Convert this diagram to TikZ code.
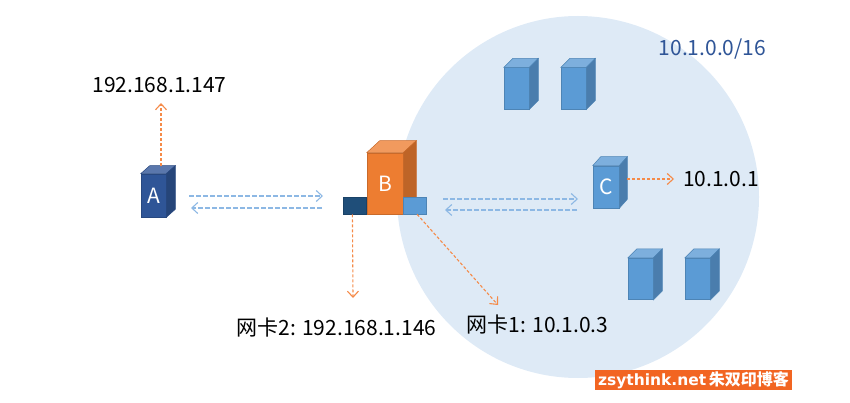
\documentclass[tikz,border=0pt]{standalone}
\usepackage{fontspec}
\setmainfont{Noto Sans CJK SC}
\newfontfamily\markfont{DejaVu Sans}
\usetikzlibrary{calc, positioning, arrows.meta}
\definecolor{netBlue}{HTML}{DEEAF6}
\definecolor{hostBlue}{HTML}{5B9BD5}
\definecolor{hostBlueTop}{HTML}{7DAFDD}
\definecolor{hostBlueSide}{HTML}{4A7DAD}
\definecolor{hostDark}{HTML}{2F5597}
\definecolor{hostDarkTop}{HTML}{5A77AC}
\definecolor{hostDarkSide}{HTML}{264579}
\definecolor{hostOrange}{HTML}{ED7D31}
\definecolor{hostOrangeTop}{HTML}{F19A5E}
\definecolor{hostOrangeSide}{HTML}{BE6427}
\definecolor{nicDark}{HTML}{1F4E79}
\definecolor{linkBlue}{HTML}{8DB8E4}
\definecolor{linkOrange}{HTML}{F58A48}
\definecolor{markOrange}{HTML}{F26522}
\tikzset{
    host/.style={rectangle, draw=#1!85!black, fill=#1, line width=0.6pt, inner sep=0pt, text=white, font=\fontsize{21}{21}\selectfont},
    nic/.style={rectangle, draw=#1!85!black, fill=#1, line width=0.6pt, inner sep=0pt, minimum width=23pt, minimum height=17pt},
    addr/.style={inner sep=0pt, font=\fontsize{21}{25}\selectfont, text=black},
    traffic/.style={-{Straight Barb[length=6pt, width=11pt]}, linkBlue, line width=1.1pt, dash pattern=on 5pt off 2pt},
    lookup/.style={-{Straight Barb[length=6pt, width=11pt]}, linkOrange, line width=1.1pt, dash pattern=on 3pt off 2pt}
}
\begin{document}
\begin{tikzpicture}[x=1pt, y=-1pt]
    \useasboundingbox (0,0) rectangle (850,403);

    % Subnet
    \node[circle, fill=netBlue, minimum size=362pt, inner sep=0pt] (net) at (578,197) {};

    % Hosts
    \node[host=hostDark, minimum width=25pt, minimum height=43pt] (A) at (153.5,195.5) {A};
    \node[host=hostOrange, minimum width=36pt, minimum height=61pt] (B) at (385,183.5) {B};
    \node[host=hostBlue, minimum width=26pt, minimum height=42pt] (C) at (606,187) {C};
    \foreach \name/\x/\y in {h1/516.5/88.5, h2/573.5/88.5, h3/640.5/279, h4/697.5/279} {
        \node[host=hostBlue, minimum width=25pt, minimum height=41.5pt] (\name) at (\x,\y) {};
    }

    % Top and side faces
    \foreach \name/\dx/\dy/\col in {A/9/8/hostDark, B/13/12/hostOrange, C/8/9/hostBlue, h1/9/9/hostBlue, h2/9/9/hostBlue, h3/9/9/hostBlue, h4/9/9/hostBlue} {
        \filldraw[fill=\col Top, draw=\col!85!black, line width=0.5pt] (\name.north west) -- ++(\dx,-\dy) -- ($(\name.north east)+(\dx,-\dy)$) -- (\name.north east) -- cycle;
        \filldraw[fill=\col Side, draw=\col!85!black, line width=0.5pt] (\name.north east) -- ++(\dx,-\dy) -- ($(\name.south east)+(\dx,-\dy)$) -- (\name.south east) -- cycle;
    }

    % Network cards
    \node[nic=nicDark, anchor=south east] (nic2) at (B.south west) {};
    \node[nic=hostBlue, anchor=south west] (nic1) at (B.south east) {};

    % Labels
    \node[addr, text=hostDark] (netAddr) at (712.5,49) {10.1.0.0/16};
    \node[addr] (addrA) at (159.5,85) {192.168.1.147};
    \node[addr] (addrC) at (721,179) {10.1.0.1};
    \node[addr] (addrNic2) at (336.5,328) {网卡2: 192.168.1.146};
    \node[addr] (addrNic1) at (537.5,325) {网卡1: 10.1.0.3};

    % Free ends of the connectors
    \coordinate (upA) at (161,166);
    \coordinate (topA) at (161,103);
    \coordinate (ab1) at (189,196);
    \coordinate (ab2) at (323,196);
    \coordinate (ba1) at (322,208);
    \coordinate (ba2) at (191,208);
    \coordinate (bc1) at (443,199);
    \coordinate (bc2) at (578,199);
    \coordinate (cb1) at (577,210);
    \coordinate (cb2) at (445,210);
    \coordinate (endC) at (674,179);
    \coordinate (endNic2) at (353,298);
    \coordinate (endNic1) at (498,305);

    % Traffic
    \draw[traffic] (ab1) -- (ab2);
    \draw[traffic] (ba1) -- (ba2);
    \draw[traffic] (bc1) -- (bc2);
    \draw[traffic] (cb1) -- (cb2);

    % Addresses
    \draw[lookup] (C.east |- endC) ++(8,0) -- (endC);
    \draw[lookup] (upA) -- (topA);
    \draw[lookup] (nic2.south) ++(-2.5,0) -- (endNic2);
    \draw[lookup] (nic1.south) ++(2,0) -- (endNic1);

    % Watermark
    \node[rectangle, fill=markOrange, text=white, minimum width=197pt, minimum height=20pt, inner sep=0pt, font=\fontsize{16}{16}\selectfont\bfseries] (mark) at (693.5,380) {{\markfont\fontsize{15.5}{16}\selectfont zsythink.net}\,朱双印博客};
\end{tikzpicture}
\end{document}
